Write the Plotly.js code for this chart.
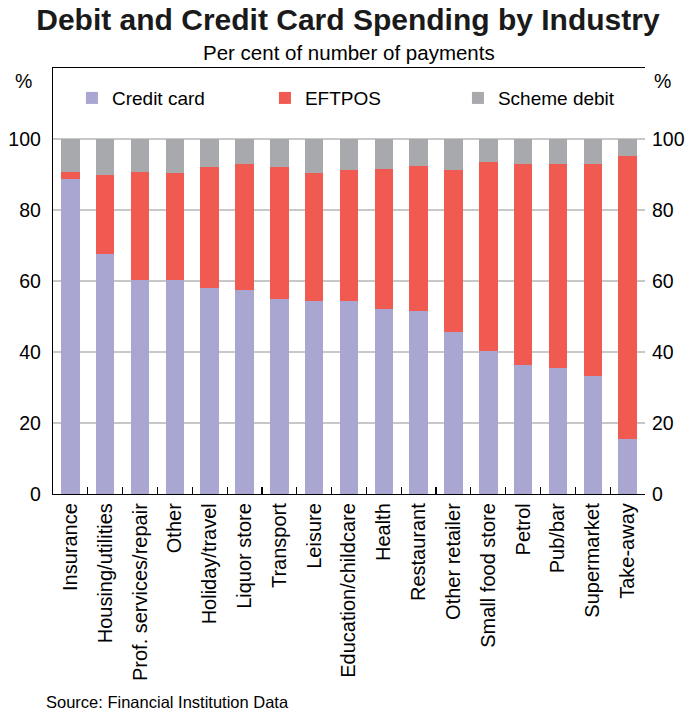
<!DOCTYPE html>
<html>
<head>
<meta charset="utf-8">
<script src="https://cdn.plot.ly/plotly-3.0.1.min.js"></script>
<style>html,body{margin:0;padding:0;background:#fff;}#chart{width:689px;height:712px;}</style>
</head>
<body>
<div id="chart"></div>
<script>
const categories = ["Insurance","Housing/utilities","Prof. services/repair","Other","Holiday/travel","Liquor store","Transport","Leisure","Education/childcare","Health","Restaurant","Other retailer","Small food store","Petrol","Pub/bar","Supermarket","Take-away"];
const creditCard = [88.6,67.6,60.3,60.3,58.1,57.6,55.0,54.5,54.5,52.0,51.5,45.5,40.3,36.3,35.5,33.3,15.5];
const eftposTop  = [90.8,89.9,90.8,90.3,92.0,93.0,92.0,90.3,91.2,91.6,92.5,91.2,93.4,93.0,93.0,93.0,95.1];
const eftpos = eftposTop.map((t,i)=>+(t-creditCard[i]).toFixed(1));
const schemeDebit = eftposTop.map(t=>+(100-t).toFixed(1));
const yTicks = [0,20,40,60,80,100];

const font = "Liberation Sans, Arial, sans-serif";
const traces = [
  {type:'bar', name:'Credit card', x:categories, y:creditCard, marker:{color:'#a9a6d1'}},
  {type:'bar', name:'EFTPOS', x:categories, y:eftpos, marker:{color:'#f15a50'}},
  {type:'bar', name:'Scheme debit', x:categories, y:schemeDebit, marker:{color:'#a7a9ac'}},
  {type:'scatter', mode:'markers', x:categories, y:creditCard, yaxis:'y2', marker:{opacity:0}, showlegend:false, hoverinfo:'skip'}
];
const layout = {
  width:689, height:712,
  margin:{l:53, r:44, t:68, b:218},
  paper_bgcolor:'#fff', plot_bgcolor:'#fff',
  barmode:'stack', bargap:0.47,
  font:{family:font, size:18, color:'#000'},
  title:{text:'<b>Debit and Credit Card Spending by Industry</b>', font:{family:font, size:30, color:'#1a1a1a'}, x:0.505, xref:'container', y:0.988, yanchor:'top'},
  showlegend:true,
  legend:{orientation:'h', x:0.032, y:0.974, yanchor:'top', xanchor:'left', entrywidth:148, entrywidthmode:'pixels', font:{family:font, size:19}, bgcolor:'rgba(0,0,0,0)', itemwidth:30, traceorder:'normal'},
  xaxis:{type:'category', tickangle:-90, ticks:'inside', ticklen:7, tickcolor:'#000', tickwidth:1.2, tickson:'boundaries', showline:true, linecolor:'#000', linewidth:1.2, mirror:true, showgrid:false, tickfont:{family:font, size:20}, automargin:false, range:[-0.5,16.5]},
  yaxis:{range:[0,120], tickvals:yTicks, ticktext:yTicks.map(String), showgrid:true, gridcolor:'#c8c8c8', gridwidth:1.5, zeroline:false, showline:true, linecolor:'#000', linewidth:1.2, ticks:'', tickfont:{family:font, size:19.5}, ticklabelstandoff:7, automargin:false},
  yaxis2:{range:[0,120], tickvals:yTicks, ticktext:yTicks.map(String), overlaying:'y', side:'right', showgrid:false, zeroline:false, showline:false, ticks:'', tickfont:{family:font, size:19.5}, ticklabelstandoff:6, automargin:false},
  annotations:[
    {text:'Per cent of number of payments', xref:'paper', yref:'paper', x:0.5, y:1.0, yshift:16, xanchor:'center', yanchor:'middle', showarrow:false, font:{family:font, size:20.5}},
    {text:'%', xref:'paper', yref:'paper', x:0, xshift:-30, y:0.97, xanchor:'center', yanchor:'middle', showarrow:false, font:{family:font, size:19.5}},
    {text:'%', xref:'paper', yref:'paper', x:1, xshift:17, y:0.97, xanchor:'center', yanchor:'middle', showarrow:false, font:{family:font, size:19.5}},
    {text:'Source: Financial Institution Data', xref:'paper', yref:'paper', x:0, xshift:-9, y:-0.488, xanchor:'left', yanchor:'middle', showarrow:false, font:{family:font, size:16.5}}
  ]
};
Plotly.newPlot('chart', traces, layout, {displayModeBar:false, staticPlot:true});
</script>
</body>
</html>
